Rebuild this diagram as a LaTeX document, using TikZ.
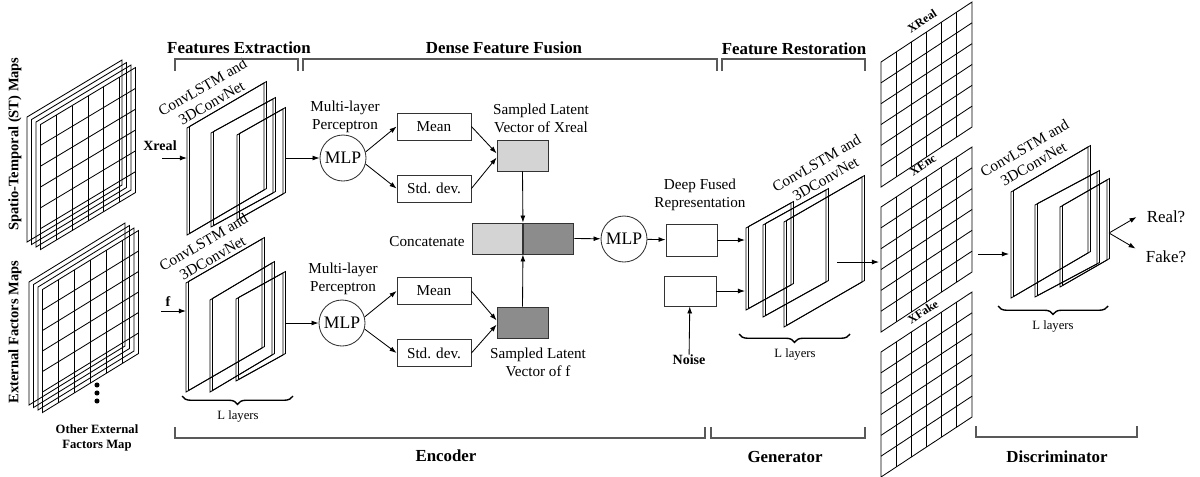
\documentclass[tikz,border=0pt]{standalone}
\usepackage{fontspec}
\setmainfont{Liberation Serif}
\usetikzlibrary{arrows.meta,decorations.pathreplacing}

\definecolor{lightg}{gray}{0.83}
\definecolor{darkg}{gray}{0.55}

% one conv layer, drawn as a thin slab: x, top y, width, rise, height
\newcommand{\slab}[5]{%
  \draw (#1,#2) -- ++(#3,-#4) -- ++(0,#5) -- ++(-#3,#4) -- cycle;
  \draw[shift={(2.5,-1.5)}] (#1,#2) -- ++(#3,-#4) -- ++(0,#5) -- ++(-#3,#4) -- cycle;
}
% a plain map sheet and a map sheet with a 6x6 grid
\newcommand{\plainmap}[5]{%
  \draw (#1,#2) -- ++(#3,-#4) -- ++(0,#5) -- ++(-#3,#4) -- cycle;
}
\newcommand{\gridmap}[5]{%
  \draw (#1,#2) -- ++(#3,-#4) -- ++(0,#5) -- ++(-#3,#4) -- cycle;
  \foreach \k in {1,...,5}{
    \draw ({#1+\k*#3/6},{#2-\k*#4/6}) -- ++(0,#5);
    \draw (#1,{#2+\k*#5/6}) -- ++(#3,-#4);
  }
}

\begin{document}
\begin{tikzpicture}[x=0.025cm, y=-0.025cm, line width=0.6pt,
  >={Latex[length=5pt,width=3.5pt]},
  txt/.style={font=\fontsize{10.8}{12.8}\selectfont, align=center, inner sep=0pt},
  hdr/.style={font=\fontsize{12}{14}\selectfont\bfseries, inner sep=0pt},
  boldlab/.style={font=\fontsize{10}{12}\selectfont\bfseries, inner sep=0pt, align=center},
  layerlab/.style={font=\fontsize{9}{11}\selectfont, inner sep=0pt},
  gridlab/.style={font=\fontsize{8.5}{10}\selectfont\bfseries, inner sep=0pt, rotate=33},
  conv/.style={font=\fontsize{10.8}{12.8}\selectfont, align=center, rotate=30, inner sep=0pt},
  statbox/.style={draw=black!80, minimum width=1.85cm, minimum height=0.675cm, inner sep=0pt,
    font=\fontsize{10.8}{12.8}\selectfont},
  mlp/.style={draw=black!80, circle, minimum size=1.15cm, inner sep=0pt, font=\fontsize{12.5}{14}\selectfont},
  latent/.style={draw=black!80, minimum width=1.275cm, minimum height=0.775cm, inner sep=0pt},
  bracket/.style={line width=1.3pt, black!65},
  curly/.style={decorate, decoration={brace, amplitude=6pt, mirror}, line width=1pt}]
  \useasboundingbox (0,0) rectangle (1200,476);

  % input map stacks
  \node[boldlab, rotate=90, font=\fontsize{10.3}{12}\selectfont\bfseries] (stlab) at (15,144) {Spatio-Temporal (ST) Maps};
  \node[boldlab, rotate=90, font=\fontsize{10.3}{12}\selectfont\bfseries] (extlab) at (15,332) {External Factors Maps};
  \foreach \s in {0,...,2} \plainmap{27+4.5*\s}{117+2.5*\s}{95}{57}{125};
  \gridmap{40.5}{124.5}{95}{57}{125}
  \foreach \s in {0,...,2} \plainmap{29+4.5*\s}{282+2.5*\s}{96}{59}{123};
  \gridmap{42.5}{289.5}{96}{59}{123}
  \fill (97,385) circle (1.8pt) (97,393) circle (1.8pt) (97,401) circle (1.8pt);
  \node[boldlab, font=\fontsize{9}{11}\selectfont\bfseries] (othlab) at (97,438) {Other External\\Factors Map};

  % features extraction
  \node[boldlab] (xlab) at (160,146) {Xreal};
  \node[boldlab] (flab) at (168,302) {f};
  \coordinate (xtail) at (162,158); \coordinate (xhead) at (187,158);
  \coordinate (ftail) at (161,311); \coordinate (fhead) at (186,311);
  \draw[->] (xtail) -- (xhead);
  \draw[->] (ftail) -- (fhead);
  \slab{187}{128}{77}{45}{107}
  \slab{211}{133}{62}{34}{94}
  \slab{237}{135}{46}{26}{85}
  \slab{186}{283}{76}{44}{109}
  \slab{210}{300}{62}{37}{92}
  \slab{236}{299}{47}{26}{82}
  \node[conv] (cva) at (207,95) {ConvLSTM and\\3DConvNet};
  \node[conv] (cvb) at (208,250) {ConvLSTM and\\3DConvNet};
  \draw[curly] (182,396) -- (293,396);
  \node[layerlab] (lla) at (238,416) {L layers};

  % dense feature fusion
  \node[mlp] (mlpa) at (343,158) {MLP};
  \node[txt] (mlpalab) at (345,117) {Multi-layer\\Perceptron};
  \node[statbox] (meana) at (434,126.5) {Mean};
  \node[statbox] (stda) at (434,188.5) {Std. dev.};
  \node[latent, fill=lightg] (lata) at (522.5,155.5) {};
  \node[txt] (latalab) at (541,118) {Sampled Latent\\Vector of Xreal};

  \node[mlp] (mlpb) at (342,323) {MLP};
  \node[txt] (mlpblab) at (343,279) {Multi-layer\\Perceptron};
  \node[statbox] (meanb) at (434,291) {Mean};
  \node[statbox] (stdb) at (434,353) {Std. dev.};
  \node[latent, fill=darkg] (latb) at (522.5,322.5) {};
  \node[txt] (latblab) at (538,362) {Sampled Latent\\Vector of f};

  \node[latent, minimum width=1.2625cm, fill=lightg] (cata) at (497.25,238.5) {};
  \node[latent, minimum width=1.2625cm, fill=darkg, anchor=west] (catb) at (cata.east) {};
  \node[txt] (catlab) at (427,242) {Concatenate};

  \coordinate (sa) at (286,158); \coordinate (sb) at (285,323);
  \draw[->] (sa) -- (mlpa);
  \draw[->] (sb) -- (mlpb);
  \draw[->] (mlpa.15) -- (meana.west);
  \draw[->] (mlpa.-15) -- (stda.west);
  \draw[->] (meana.east) -- ([yshift=1.5pt]lata.west);
  \draw[->] (stda.east) -- ([yshift=-1.5pt]lata.west);
  \draw[->] (mlpb.15) -- (meanb.west);
  \draw[->] (mlpb.-15) -- (stdb.west);
  \draw[->] (meanb.east) -- ([yshift=1.5pt]latb.west);
  \draw[->] (stdb.east) -- ([yshift=-1.5pt]latb.west);
  \draw[->] (lata.south) -- (cata.north east);
  \draw[->] (latb.north) -- (catb.south west);

  \node[mlp] (mlpc) at (624,239) {MLP};
  \node[draw=black!80, minimum width=1.275cm, minimum height=0.8cm, inner sep=0pt] (fused) at (691.5,240) {};
  \node[txt] (fusedlab) at (700,195) {Deep Fused\\Representation};
  \node[draw=black!80, minimum width=1.3cm, minimum height=0.75cm, inner sep=0pt] (noisebox) at (690,291) {};
  \node[boldlab] (noise) at (689,360) {Noise};
  \draw[->] (catb.east) -- (mlpc);
  \draw[->] (mlpc) -- (fused);
  \draw[->] (noise) -- (noisebox);

  % generator
  \coordinate (ga) at (745,240); \coordinate (gb) at (745,291);
  \draw[->] (fused) -- (ga);
  \draw[->] (noisebox) -- (gb);
  \slab{746}{228}{45}{25}{82}
  \slab{763}{225}{63}{35}{92}
  \slab{784}{222}{78}{45}{105}
  \node[conv] (cvc) at (821,171) {ConvLSTM and\\3DConvNet};
  \draw[curly] (739,334) -- (850,334);
  \node[layerlab] (llb) at (795,354) {L layers};
  \coordinate (gout) at (837,262); \coordinate (gin) at (879,262);
  \draw[->] (gout) -- (gin);

  % real / encoded / fake maps
  \gridmap{881}{62}{91}{60}{125}
  \gridmap{881}{207}{91}{60}{125}
  \gridmap{881}{352}{91}{60}{125}
  \node[gridlab] (xreal) at (922,21) {XReal};
  \node[gridlab] (xenc) at (923,165) {XEnc};
  \node[gridlab] (xfake) at (923,312) {XFake};

  % discriminator
  \coordinate (dtail) at (978,254); \coordinate (dhead) at (1009,254);
  \draw[->] (dtail) -- (dhead);
  \slab{1011}{192}{77}{45}{106}
  \slab{1035}{205}{62}{33}{92}
  \slab{1060}{207}{47}{27}{80}
  \node[conv] (cvd) at (1029,156) {ConvLSTM and\\3DConvNet};
  \draw[curly] (998,306) -- (1108,306);
  \node[layerlab] (llc) at (1053,326) {L layers};
  \node[txt, font=\fontsize{12}{14}\selectfont] (real) at (1166,217) {Real?};
  \node[txt, font=\fontsize{12}{14}\selectfont] (fake) at (1166,257) {Fake?};
  \coordinate (dout) at (1109,233);
  \draw[->] (dout) -- ([xshift=-7pt]real.west);
  \draw[->] (dout) -- ([xshift=-7pt,yshift=6pt]fake.west);

  % section brackets
  \draw[bracket] (175,71) -- (175,59) -- (298,59) -- (298,71);
  \draw[bracket] (303,71) -- (303,59) -- (717,59) -- (717,71);
  \draw[bracket] (722,71) -- (722,59) -- (865,59) -- (865,71);
  \draw[bracket] (175,427) -- (175,438) -- (705,438) -- (705,427);
  \draw[bracket] (711,427) -- (711,438) -- (865,438) -- (865,427);
  \draw[bracket] (976,426) -- (976,437) -- (1137,437) -- (1137,426);
  \node[hdr] (fe) at (239,48) {Features Extraction};
  \node[hdr] (dff) at (504,48) {Dense Feature Fusion};
  \node[hdr] (fr) at (794,49) {Feature Restoration};
  \node[hdr] (enc) at (446,456) {Encoder};
  \node[hdr] (gen) at (785,457) {Generator};
  \node[hdr] (dis) at (1057,457) {Discriminator};
\end{tikzpicture}
\end{document}
